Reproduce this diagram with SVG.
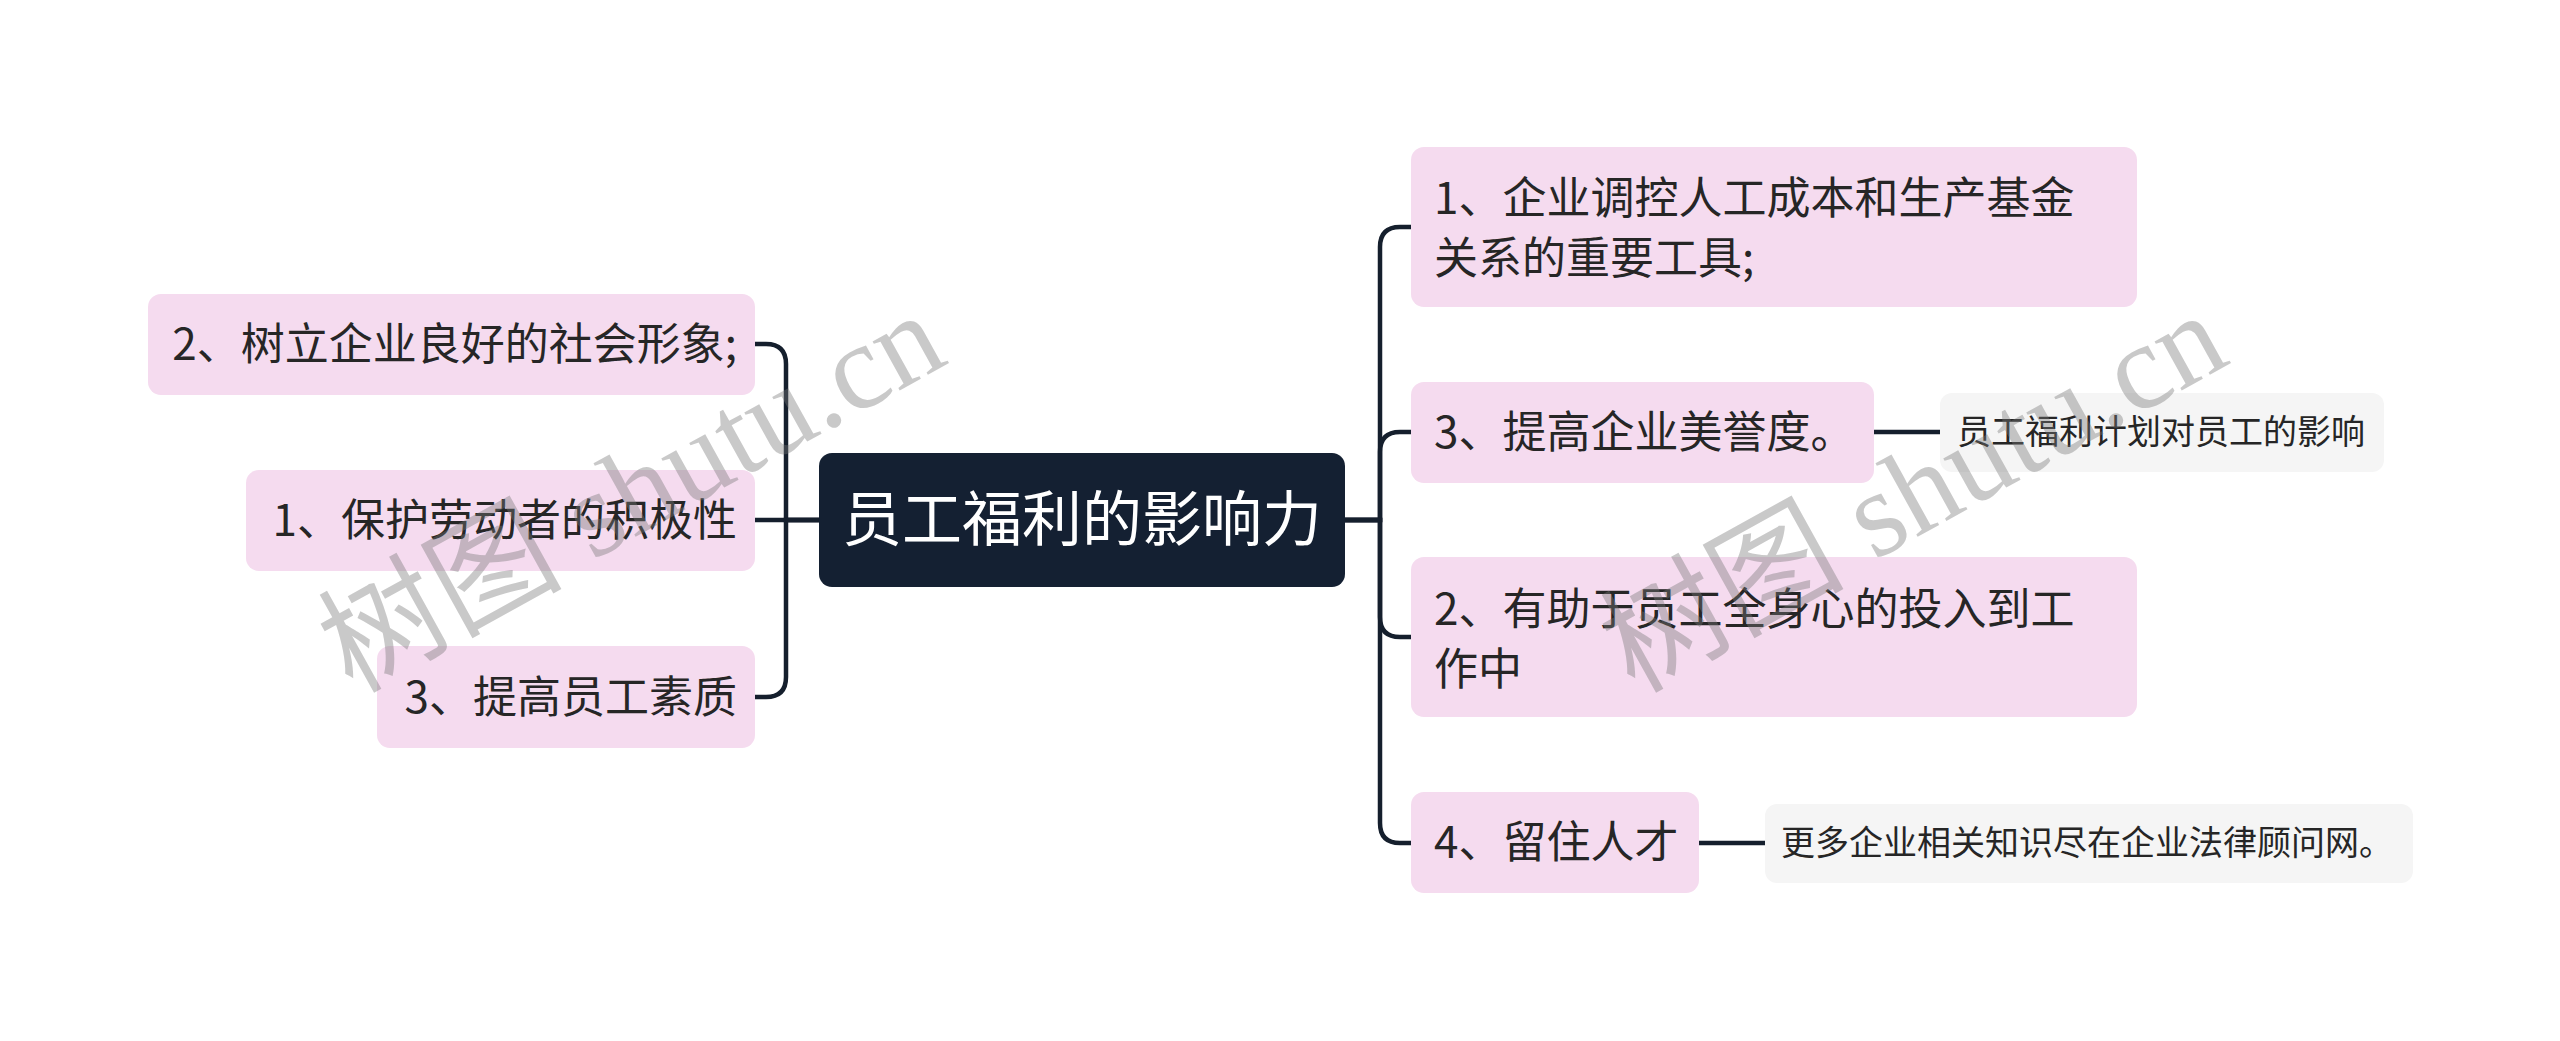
<svg xmlns="http://www.w3.org/2000/svg" width="2560" height="1041" viewBox="0 0 2560 1041">
<style>
.bg{fill:#ffffff}
.root rect{fill:#142032}
.root text{fill:#ffffff;font-size:60px}
.topic rect{fill:#f5dbef}
.topic text{fill:#262626;font-size:44px}
.sub rect{fill:#f5f5f5}
.sub text{fill:#262626;font-size:34px}
text{font-family:"Noto Sans CJK SC","Noto Sans",sans-serif}
.conn path{fill:none;stroke:#151f2d;stroke-width:4.5;stroke-linecap:butt}
.wm{fill:#777777;fill-opacity:0.4;font-family:"Liberation Serif","Noto Sans CJK SC",serif;font-size:122px}
</style>
<rect class="bg" x="0" y="0" width="2560" height="1041"/>
<g id="connectors" class="conn">
<path d="M819 520 H786 V364 Q786 344 766 344 H755"/>
<path d="M819 520 H755"/>
<path d="M819 520 H786 V677 Q786 697 766 697 H755"/>
<path d="M1345 520 H1380 V247 Q1380 227 1400 227 H1411"/>
<path d="M1345 520 H1380 V452 Q1380 432 1400 432 H1411"/>
<path d="M1345 520 H1380 V617 Q1380 637 1400 637 H1411"/>
<path d="M1345 520 H1380 V823 Q1380 843 1400 843 H1411"/>
<path d="M1874 432 H1940"/>
<path d="M1699 843 H1765"/>
</g>
<g id="root" class="root">
<rect x="819" y="453" width="526" height="134" rx="13"/>
<text x="1082" y="541" text-anchor="middle">员工福利的影响力</text>
</g>
<g id="left1" class="topic">
<rect x="148" y="294" width="607" height="101" rx="13"/>
<text x="737" y="360" text-anchor="end">2、树立企业良好的社会形象;</text>
</g>
<g id="left2" class="topic">
<rect x="246" y="470" width="509" height="101" rx="13"/>
<text x="737" y="536" text-anchor="end">1、保护劳动者的积极性</text>
</g>
<g id="left3" class="topic">
<rect x="377" y="646" width="378" height="102" rx="13"/>
<text x="737" y="713" text-anchor="end">3、提高员工素质</text>
</g>
<g id="right1" class="topic">
<rect x="1411" y="147" width="726" height="160" rx="13"/>
<text x="1434" y="214">1、企业调控人工成本和生产基金</text>
<text x="1434" y="274">关系的重要工具;</text>
</g>
<g id="right2" class="topic">
<rect x="1411" y="382" width="463" height="101" rx="13"/>
<text x="1434" y="448">3、提高企业美誉度。</text>
</g>
<g id="right2a" class="sub">
<rect x="1940" y="393" width="444" height="79" rx="12"/>
<text x="1957" y="444">员工福利计划对员工的影响</text>
</g>
<g id="right3" class="topic">
<rect x="1411" y="557" width="726" height="160" rx="13"/>
<text x="1434" y="625">2、有助于员工全身心的投入到工</text>
<text x="1434" y="685">作中</text>
</g>
<g id="right4" class="topic">
<rect x="1411" y="792" width="288" height="101" rx="13"/>
<text x="1434" y="858">4、留住人才</text>
</g>
<g id="right4a" class="sub">
<rect x="1765" y="804" width="648" height="79" rx="12"/>
<text x="1781" y="855">更多企业相关知识尽在企业法律顾问网。</text>
</g>
<g id="watermarks">
<text class="wm" transform="translate(352 694) rotate(-29)">树图 shutu.cn</text>
<text class="wm" transform="translate(1634 694) rotate(-29)">树图 shutu.cn</text>
</g>
</svg>
